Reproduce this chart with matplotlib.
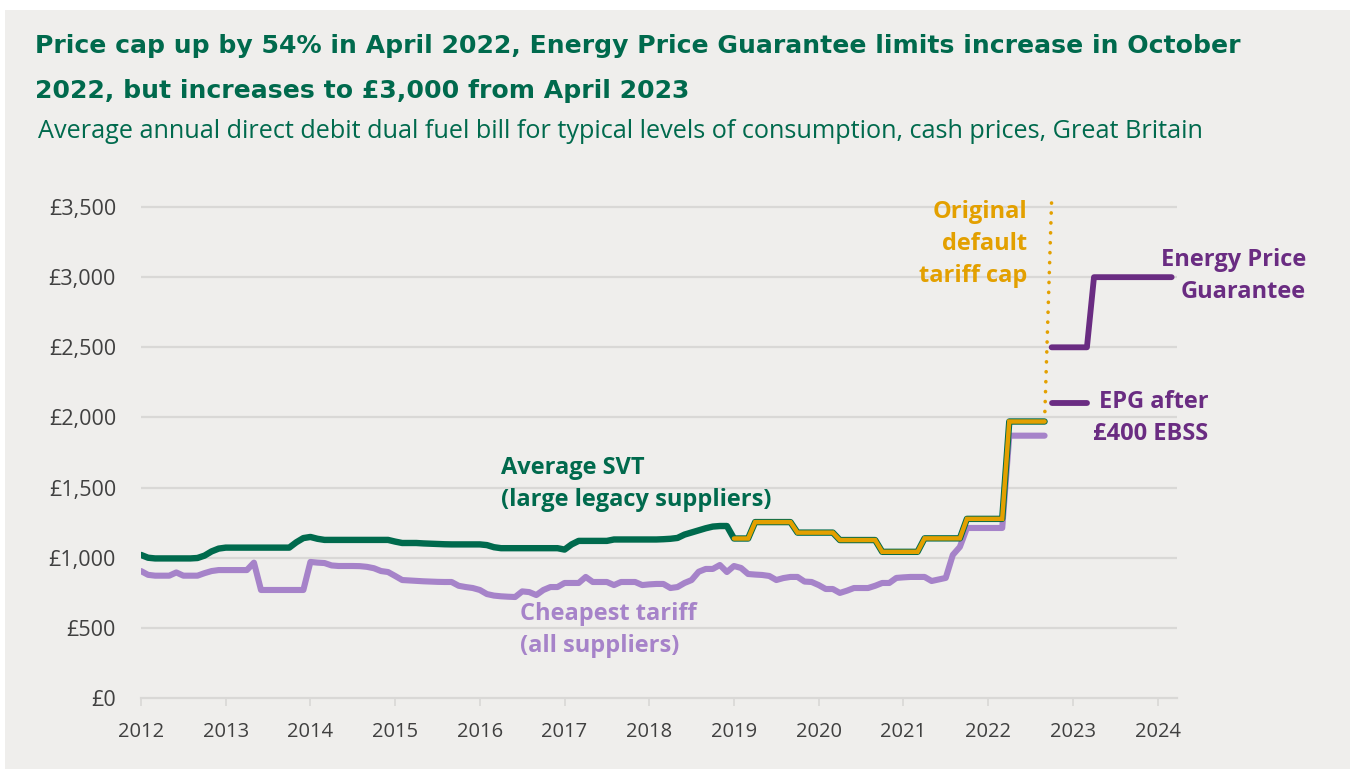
import numpy as np
import matplotlib
matplotlib.use("Agg")
import matplotlib.pyplot as plt
from matplotlib.patches import Rectangle

# monthly values, Jan 2012 onwards
svt_2012_2018 = [
    1020, 1000, 995, 995, 995, 995, 995, 995, 998, 1015, 1045, 1065,   # 2012
    1072, 1072, 1072, 1072, 1072, 1072, 1072, 1072, 1072, 1072, 1110, 1140,  # 2013
    1148, 1135, 1127, 1127, 1127, 1127, 1127, 1127, 1127, 1127, 1127, 1127,  # 2014
    1115, 1105, 1105, 1105, 1102, 1100, 1098, 1096, 1095, 1095, 1095, 1095,  # 2015
    1095, 1090, 1075, 1068, 1068, 1068, 1068, 1068, 1068, 1068, 1068, 1068,  # 2016
    1058, 1095, 1120, 1120, 1120, 1120, 1120, 1130, 1130, 1130, 1130, 1130,  # 2017
    1130, 1130, 1132, 1135, 1141, 1165, 1180, 1195, 1210, 1222, 1226, 1226,  # 2018
]
# default tariff cap, Jan 2019 - Sep 2022
cap_2019_2022 = (
    [1137] * 3 + [1254] * 6 + [1179] * 6 + [1126] * 6 + [1042] * 6
    + [1138] * 6 + [1277] * 6 + [1971] * 6
)
cheapest = [
    905, 878, 872, 872, 872, 895, 872, 872, 872, 890, 905, 912,   # 2012
    912, 912, 912, 912, 965, 770, 770, 770, 770, 770, 770, 770,   # 2013
    970, 965, 962, 945, 941, 941, 941, 940, 935, 925, 905, 898,   # 2014
    870, 841, 838, 835, 832, 830, 828, 827, 827, 800, 791, 784,   # 2015
    770, 741, 730, 725, 722, 720, 760, 755, 734, 770, 791, 791,   # 2016
    820, 820, 820, 863, 827, 827, 827, 805, 827, 827, 827, 805,   # 2017
    810, 813, 813, 784, 791, 820, 841, 900, 920, 920, 948, 898,   # 2018
    941, 927, 884, 880, 877, 870, 841, 855, 863, 863, 830, 827,   # 2019
    805, 777, 777, 749, 765, 784, 784, 784, 800, 820, 820, 856,   # 2020
    860, 863, 863, 863, 834, 845, 856, 1020, 1077, 1212, 1212, 1212,  # 2021
    1212, 1212, 1212, 1870, 1870, 1870, 1870, 1870, 1870,          # 2022
]
# Energy Price Guarantee, Oct 2022 - Mar 2024
epg = [2500] * 6 + [3000] * 12
epg_after_ebss = [2100] * 6          # Oct 2022 - Mar 2023
original_cap = [1971, 3549]          # Sep 2022 -> Oct 2022

GREEN = "#006a4d"
ORANGE = "#e3a000"
LILAC = "#a683c9"
PURPLE = "#6a2c82"
BG = "#efeeec"
GRID = "#d9d8d6"

def months(start, n):
    return start + np.arange(n) / 12.0

svt_all = svt_2012_2018 + cap_2019_2022
x_svt = months(2012, len(svt_all))
x_cap = months(2019, len(cap_2019_2022))
x_cheap = months(2012, len(cheapest))
x_epg = months(2022 + 9 / 12, len(epg))
x_ebss = months(2022 + 9 / 12, len(epg_after_ebss))
x_orig = months(2022 + 8 / 12, len(original_cap))

fig = plt.figure(figsize=(13.5, 7.69), dpi=100, facecolor=BG)
fig.patches.append(Rectangle((0, 1 - 10 / 769), 1, 10 / 769, transform=fig.transFigure,
                             facecolor="white", edgecolor="none", zorder=-1))
fig.patches.append(Rectangle((0, 0), 5 / 1350, 1, transform=fig.transFigure,
                             facecolor="white", edgecolor="none", zorder=-1))

ax = fig.add_axes([141 / 1350, 1 - 698 / 769, (1177 - 141) / 1350, (698 - 193) / 769])
ax.set_facecolor(BG)

ax.plot(x_cheap, cheapest, color=LILAC, lw=4.4, solid_joinstyle="round", solid_capstyle="round", zorder=3)
ax.plot(x_svt, svt_all, color=GREEN, lw=4.6, solid_joinstyle="round", solid_capstyle="round", zorder=4)
ax.plot(x_cap, cap_2019_2022, color=ORANGE, lw=3.2, solid_joinstyle="miter", solid_capstyle="round", zorder=5)
ax.plot(x_orig, original_cap, color=ORANGE, lw=2.6, linestyle=(0, (0.05, 2.7)),
        dash_capstyle="round", zorder=5, clip_on=False)
ax.plot(x_epg, epg, color=PURPLE, lw=4.2, solid_capstyle="round", zorder=5)
ax.plot(x_ebss, epg_after_ebss, color=PURPLE, lw=4.2, solid_capstyle="round", zorder=5)

ax.set_xlim(2012, 2024.23)
ax.set_ylim(0, 3600)
ax.set_yticks(np.arange(0, 3501, 500))
ax.set_yticklabels(["£0"] + [f"£{v:,}" for v in range(500, 3501, 500)])
ax.set_xticks(range(2012, 2025))
for v in range(500, 3501, 500):
    ax.axhline(v, color=GRID, lw=1.6, zorder=1)
for s in ["top", "right", "left"]:
    ax.spines[s].set_visible(False)
ax.spines["bottom"].set_color(GRID)
ax.spines["bottom"].set_linewidth(1.6)
ax.tick_params(axis="y", length=0, pad=18, labelsize=15.5, labelcolor="#404040")
ax.tick_params(axis="x", length=6, width=1.2, color=GRID, pad=11, labelsize=14.5, labelcolor="#404040")
for lab in ax.get_xticklabels() + ax.get_yticklabels():
    lab.set_fontfamily("Open Sans")

def label(lines, x, y, color, ha):
    for k, line in enumerate(lines):
        ax.annotate(line, xy=(x, y), xytext=(0, -23 * k), textcoords="offset points",
                    ha=ha, va="center", color=color, fontsize=17, fontweight="bold",
                    family="Open Sans", annotation_clip=False)

label(["Average SVT", "(large legacy suppliers)"], 2016.25, 1637, GREEN, "left")
label(["Cheapest tariff", "(all suppliers)"], 2016.47, 599, LILAC, "left")
label(["Original", "default", "tariff cap"], 2022.46, 3465, ORANGE, "right")
label(["Energy Price", "Guarantee"], 2025.75, 3123, PURPLE, "right")
label(["EPG after", "£400 EBSS"], 2024.6, 2110, PURPLE, "right")

fig.text(35 / 1350, 1 - 46 / 769,
         "Price cap up by 54% in April 2022, Energy Price Guarantee limits increase in October",
         color=GREEN, fontsize=18.1, fontweight="bold", family="DejaVu Sans", va="center")
fig.text(35 / 1350, 1 - 91 / 769, "2022, but increases to £3,000 from April 2023",
         color=GREEN, fontsize=18.1, fontweight="bold", family="DejaVu Sans", va="center")
fig.text(38 / 1350, 1 - 131 / 769,
         "Average annual direct debit dual fuel bill for typical levels of consumption, cash prices, Great Britain",
         color=GREEN, fontsize=18.2, family="Open Sans", va="center")

fig.savefig("out.png", dpi=100, facecolor=BG)
